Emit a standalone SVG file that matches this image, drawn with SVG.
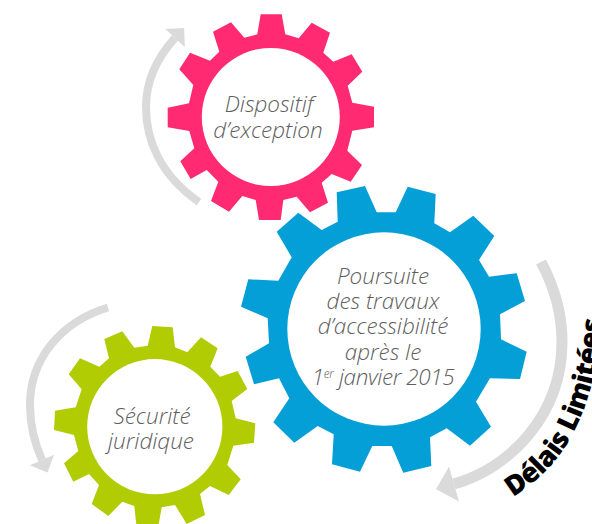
<svg xmlns="http://www.w3.org/2000/svg" width="592" height="524" viewBox="0 0 592 524">
<style>
.label{font-family:"Open Sans","Noto Sans",sans-serif;font-weight:300;font-style:italic;font-size:22.5px;fill:#5e5e5e;text-anchor:middle}
.hole{fill:#fff}
.band{fill:none;stroke:#dadada}
.title{font-family:"Open Sans","Noto Sans",sans-serif;font-weight:800;font-size:27.5px;letter-spacing:-.6px;fill:#000}
</style>
<defs>
<marker id="head" markerUnits="strokeWidth" markerWidth="4" markerHeight="4" viewBox="0 -2 2 4" refX="0" refY="0" orient="auto"><path d="M0,-1.65 L1.7,0 L0,1.65Z" fill="#dadada"/></marker>
<path id="curve" d="M513,497 C556,470 596,425 602,310"/>
</defs>
<g id="connectors">
<path class="band" stroke-width="8" marker-end="url(#head)" d="M199,202 C160,175 146,140 146,107 C146,84 155,60 175,38"/>
<path class="band" stroke-width="8" marker-end="url(#head)" d="M108,307.5 C60,322 30,360 30,405 C30,425 34,442 42,460"/>
<path class="band" stroke-width="11" marker-end="url(#head)" d="M541,262 C555,288 562,315 562,342 C562,415 510,468 454,484"/>
</g>
<g id="gear-dispositif">
<polygon fill="#ff2a72" points="260.7,14.3 281.7,14.3 285.3,34.3 298.7,38.3 311.7,22.7 330,32.7 323.3,52.7 333.3,61.7 351.7,54.3 362.3,71.7 347.7,85.7 352.3,102.7 374,106.7 374,127.3 352.3,130.7 347.3,150.7 362,165 350.7,181.7 331.7,174 321.7,182.7 328,202.7 310,212.3 296.7,196.7 283.3,200 280.7,220 259,220 255.7,200 242.3,196 229,211.7 211,201 218.3,181.7 206.7,170 190.7,179 180.3,161.3 194.3,148.3 189.3,131 167.7,127.3 167.7,107.7 189,103.3 193.3,85 179.3,69.3 190,52.7 210,60.7 219.3,51.7 213,31.7 231,22.3 244.3,37.7 257.3,34.3"/>
<circle class="hole" cx="270.8" cy="117" r="69"/>
<text class="label" x="269" y="112">Dispositif</text>
<text class="label" x="268" y="138">d’exception</text>
</g>
<g id="gear-poursuite">
<polygon fill="#039fd6" points="336.7,192.3 365,186 376.7,212.3 395.7,212.3 407.7,186.7 435.7,194 434.3,223.3 450,232.3 473.3,215.7 494.3,236 479,260 489,276.7 516.7,273.3 525,301 500,314.3 501,339.3 526.7,351.7 520,379 490,378.3 476,401.7 491,426.7 470,445.7 446.7,428.3 430,437.3 431.3,466 403.3,472.7 391.7,446 372.3,446 360,471.7 332,464.3 333.7,434.3 317.7,426 294.3,442.7 273.3,422.3 289.3,398.3 279,378.3 254,384.3 245.7,356.7 269,343.3 267.7,318.3 241,306.7 248.3,279.3 278.3,280.7 291.7,257.3 276.7,231.7 298.3,212.7 321.7,230 337.7,221.7"/>
<circle class="hole" cx="384" cy="329" r="96.7"/>
<text class="label" x="383" y="284">Poursuite</text>
<text class="label" x="383" y="309">des travaux</text>
<text class="label" x="383" y="334">d’accessibilité</text>
<text class="label" x="383" y="360">après le</text>
<text class="label" x="383" y="385" letter-spacing="-.4">1<tspan font-size="12" dy="-7">er</tspan><tspan dy="7"> janvier 2015</tspan></text>
</g>
<g id="gear-securite">
<polygon fill="#b2cc04" points="152.3,326 172.7,327.3 175,347.3 187.3,352.3 201,337.3 217.7,348.3 210.3,366.7 220,376.7 237.7,371 247.3,389 231.7,401 235.7,418.3 255.3,423.3 254,442.7 233.3,445.7 227.3,465 240.7,479.3 228.7,495 210,486 200,494 205,515 186.7,524 175,505 161.7,507.3 158,528 136.7,528 134.3,506 122.3,501.7 108.3,516 91.7,504 99,485 89,474 73.3,481.7 64,463.3 78.3,451 74,435 54,430 55,410.7 75.7,407.3 81.7,389.3 68.7,374.3 80,358.3 99.3,366.7 109,358.3 104.3,339 122.3,331.3 134.3,347.7 147.7,345.7"/>
<circle class="hole" cx="154.8" cy="426.7" r="67.6"/>
<text class="label" x="152" y="424">Sécurité</text>
<text class="label" x="151" y="449">juridique</text>
</g>
<text class="title"><textPath href="#curve">Délais Limitées</textPath></text>
</svg>
